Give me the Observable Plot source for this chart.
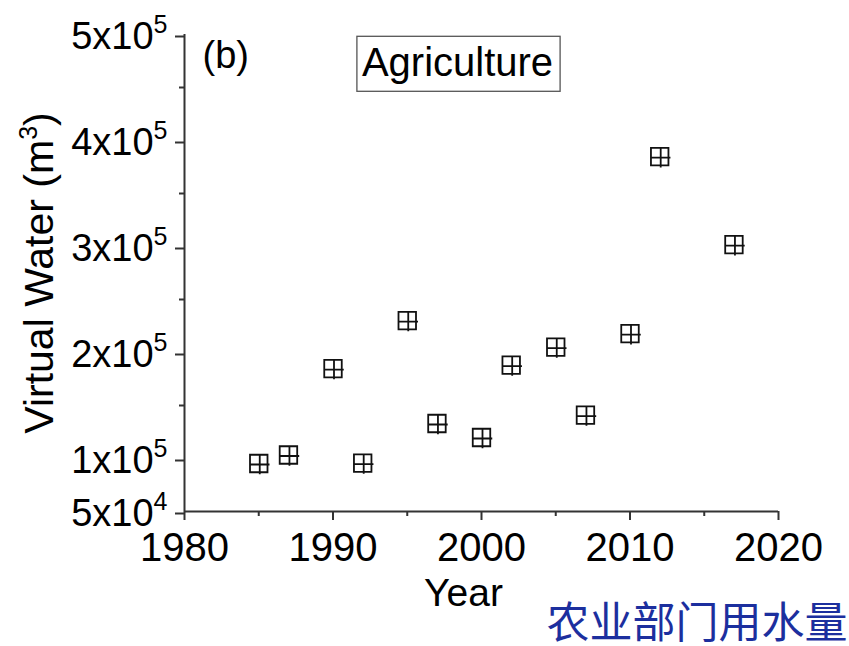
<!DOCTYPE html>
<html>
<head>
<meta charset="utf-8">
<script src="https://cdn.jsdelivr.net/npm/d3@7"></script>
<script src="https://cdn.jsdelivr.net/npm/@observablehq/plot@0.6"></script>
<style>
  html, body { margin: 0; padding: 0; background: #fff; }
  #chart { width: 849px; height: 646px; overflow: hidden; }
</style>
</head>
<body>
<div id="chart"></div>
<script>
// ---- data ----
const years  = [1985, 1987, 1990, 1992, 1995, 1997, 2000, 2002, 2005, 2007, 2010, 2012, 2017];
const values = [95300, 103300, 184800, 95700, 230100, 133000, 119800, 188100, 205100, 141000, 217800, 384700, 301700];
const xMajorTicks = [1980, 1990, 2000, 2010, 2020];
const xMinorTicks = [1985, 1995, 2005, 2015];
const yMajorTicks = [50000, 100000, 200000, 300000, 400000, 500000];
const yMinorTicks = [150000, 250000, 350000, 450000];
const panelTag = "(b)";
const titleText = "Agriculture";
const xLabel = "Year";
const yLabel = "Virtual Water (m^3)";
const caption = "农业部门用水量";

const data = years.map((y, i) => ({year: y, value: values[i]}));

const sciFmt = v => {
  const e = Math.floor(Math.log10(v));
  const m = Math.round(v / Math.pow(10, e));
  return `${m}x10^${e}`;
};

// square with crosshair marker
const squareCross = {
  draw(ctx, size) {
    const r = Math.sqrt(size / Math.PI);
    ctx.moveTo(-r, -r); ctx.lineTo(r, -r); ctx.lineTo(r, r); ctx.lineTo(-r, r); ctx.closePath();
    ctx.moveTo(-r, 1); ctx.lineTo(r + 2, 1);
    ctx.moveTo(1, -r); ctx.lineTo(1, r + 2);
  }
};

const axisColor = "#333";
const font = "Liberation Sans, Arial, Helvetica, sans-serif";

const chart = Plot.plot({
  width: 849,
  height: 646,
  marginLeft: 184,
  marginRight: 71,
  marginTop: 34,
  marginBottom: 135,
  style: {fontFamily: font, fontSize: "38px", color: "#000", background: "#fff"},
  x: {domain: [1980, 2020], label: null},
  y: {domain: [50000, 500000], label: null},
  marks: [
    Plot.axisX({ticks: xMajorTicks, tickSize: 9, tickPadding: 12, tickFormat: d => String(d), stroke: axisColor, strokeWidth: 2, fill: "#000", fontSize: 40, label: null}),
    Plot.axisX({ticks: xMinorTicks, tickSize: 5, tickFormat: () => "", stroke: axisColor, strokeWidth: 2, label: null}),
    Plot.axisY({ticks: yMajorTicks, tickSize: 9, tickPadding: 8, tickFormat: sciFmt, stroke: axisColor, strokeWidth: 2, fill: "#000", fontSize: 38, dy: 2, label: null}),
    Plot.axisY({ticks: yMinorTicks, tickSize: 5, tickFormat: () => "", stroke: axisColor, strokeWidth: 2, label: null}),
    Plot.ruleX([1980], {stroke: axisColor, strokeWidth: 2}),
    Plot.ruleY([50000], {stroke: axisColor, strokeWidth: 2}),
    Plot.dot(data, {x: "year", y: "value", symbol: squareCross, r: 8.75, stroke: "#111", strokeWidth: 1.8, fill: "none"}),
    Plot.text([panelTag], {text: d => d, frameAnchor: "top-left", textAnchor: "start", lineAnchor: "middle", dx: 18, dy: 21, fontSize: 38, fill: "#000"}),
    Plot.text([titleText], {text: d => d, frameAnchor: "top", textAnchor: "middle", lineAnchor: "middle", dx: -24, dy: 29, fontSize: 40, fill: "#000"}),
    Plot.text([xLabel], {text: d => d, frameAnchor: "bottom", textAnchor: "middle", lineAnchor: "middle", dx: -18, dy: 82, fontSize: 39, fill: "#000"}),
    Plot.text([yLabel], {text: d => d, frameAnchor: "left", textAnchor: "middle", lineAnchor: "middle", rotate: -90, dx: -145, dy: 0, fontSize: 41, fill: "#000"}),
    Plot.text([caption], {text: d => d, frameAnchor: "bottom-right", textAnchor: "end", lineAnchor: "middle", dx: 69, dy: 113, fontSize: 43, fill: "#1c2f9e", fontFamily: "Noto Sans CJK SC, sans-serif"})
  ]
});

document.getElementById("chart").appendChild(chart);

// convert "a^b" into superscripts
const ns = "http://www.w3.org/2000/svg";
chart.querySelectorAll("text").forEach(t => {
  const s = t.textContent;
  if (!s.includes("^")) return;
  const parts = s.split(/\^(\d+)/);
  t.textContent = "";
  let raised = false;
  parts.forEach((p, i) => {
    if (!p) return;
    const ts = document.createElementNS(ns, "tspan");
    ts.textContent = p;
    if (i % 2 === 1) {
      ts.setAttribute("dy", "-16");
      ts.setAttribute("font-size", "25");
      raised = true;
    } else if (raised) {
      ts.setAttribute("dy", "16");
      raised = false;
    }
    t.appendChild(ts);
  });
});

// box around the title
const tEl = Array.from(chart.querySelectorAll("text")).find(t => t.textContent === titleText);
if (tEl) {
  const bb = tEl.getBBox();
  const rel = chart.getScreenCTM().inverse().multiply(tEl.getScreenCTM());
  const pt = chart.createSVGPoint();
  pt.x = bb.x; pt.y = bb.y;
  const p1 = pt.matrixTransform(rel);
  const rect = document.createElementNS(ns, "rect");
  rect.setAttribute("x", p1.x - 5);
  rect.setAttribute("y", p1.y - 4);
  rect.setAttribute("width", bb.width + 12);
  rect.setAttribute("height", bb.height + 11);
  rect.setAttribute("fill", "none");
  rect.setAttribute("stroke", "#555");
  rect.setAttribute("stroke-width", "1.3");
  chart.appendChild(rect);
}
</script>
</body>
</html>
